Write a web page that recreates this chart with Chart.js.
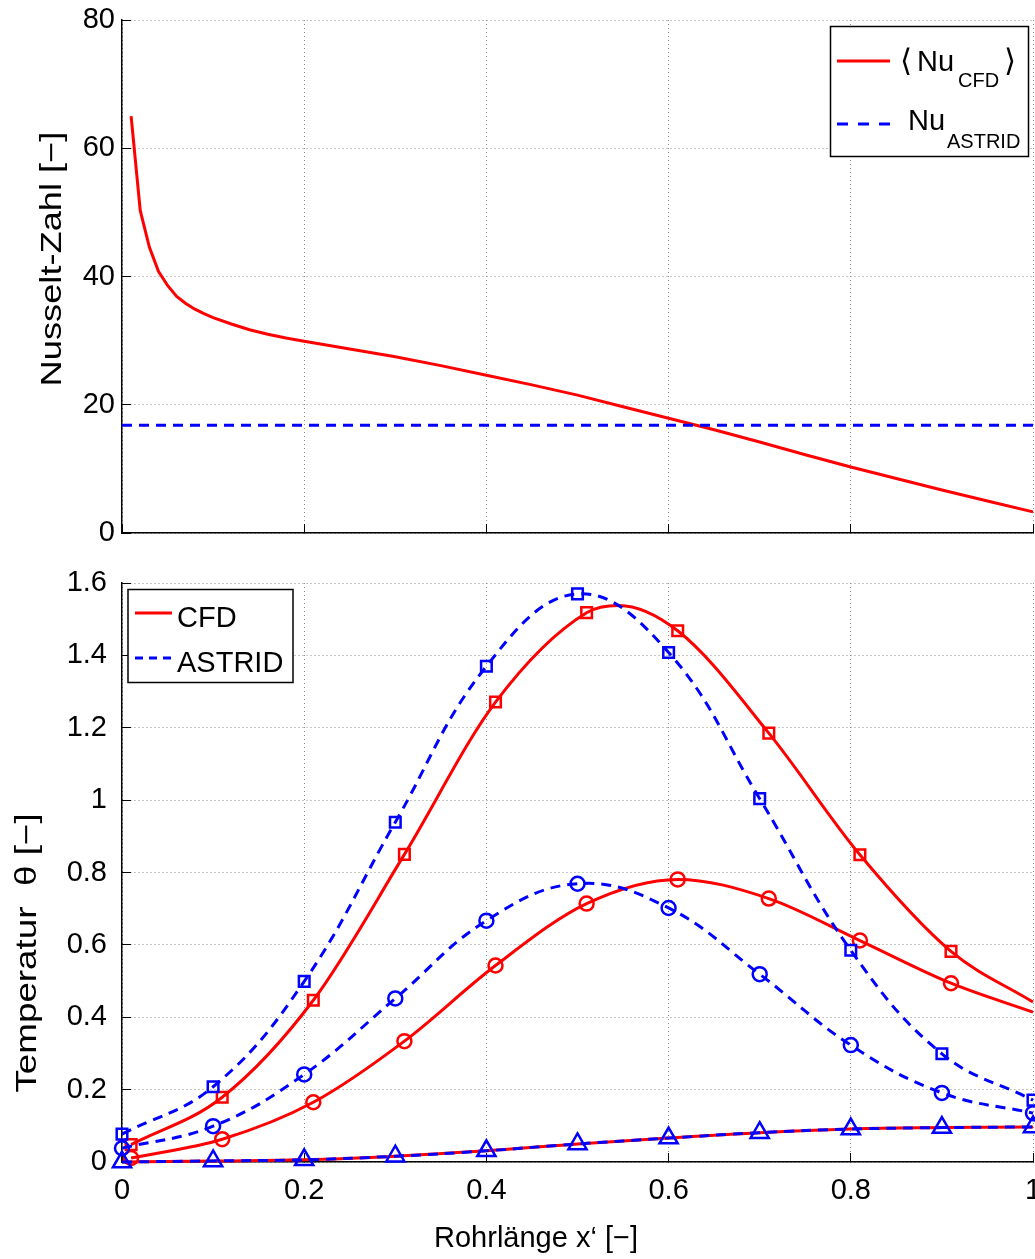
<!DOCTYPE html>
<html><head><meta charset="utf-8">
<script src="https://cdn.jsdelivr.net/npm/chart.js@4.4.1/dist/chart.umd.min.js"></script>
<style>
html,body{margin:0;padding:0;background:#fff;}
#wrap{position:relative;width:1035px;height:1259px;overflow:hidden;background:#fff;}
#c1{position:absolute;left:0;top:0;width:1035px;height:560px;}
#c2{position:absolute;left:0;top:560px;width:1035px;height:699px;}
#ov{position:absolute;left:0;top:0;}
</style></head><body>
<div id="wrap">
<canvas id="c1" width="1035" height="560"></canvas>
<canvas id="c2" width="1035" height="699"></canvas>
<svg id="ov" width="1035" height="1259" xmlns="http://www.w3.org/2000/svg">
  <g font-family="'Liberation Sans', Arial, Helvetica, sans-serif" fill="#000">
    <text transform="translate(61,259) rotate(-90) scale(1.25,1)" text-anchor="middle" font-size="29">Nusselt-Zahl [−]</text>
    <text transform="translate(36,953) rotate(-90) scale(1.27,1)" text-anchor="middle" font-size="29" xml:space="preserve">Temperatur  θ [−]</text>
    <text x="536" y="1247" text-anchor="middle" font-size="29">Rohrlänge x‘ [−]</text>

    <rect x="830.5" y="26.5" width="198" height="130" fill="#fff" stroke="#000" stroke-width="1.5"/>
    <line x1="837" y1="61" x2="890" y2="61" stroke="#ff0000" stroke-width="3"/>
    <text x="900" y="71" font-size="31" font-family="'DejaVu Sans', sans-serif" font-weight="200">⟨</text>
    <text x="917" y="71" font-size="29">Nu</text>
    <text x="958" y="87" font-size="20">CFD</text>
    <text x="1004" y="71" font-size="31" font-family="'DejaVu Sans', sans-serif" font-weight="200">⟩</text>
    <line x1="837" y1="124" x2="890" y2="124" stroke="#0000ff" stroke-width="3" stroke-dasharray="11 10"/>
    <text x="908" y="130" font-size="29">Nu</text>
    <text x="947" y="148" font-size="20">ASTRID</text>

    <rect x="128" y="589.5" width="165" height="93" fill="#fff" stroke="#000" stroke-width="1.5"/>
    <line x1="135" y1="613" x2="172" y2="613" stroke="#ff0000" stroke-width="3"/>
    <text x="177" y="627" font-size="29">CFD</text>
    <line x1="135" y1="658" x2="172" y2="658" stroke="#0000ff" stroke-width="3" stroke-dasharray="8 6"/>
    <text x="177" y="672" font-size="29">ASTRID</text>
  </g>
</svg>
</div>
<script>
// ---------------- data ----------------
const xTickLabels = ['0', '0.2', '0.4', '0.6', '0.8', '1'];
const nuTickLabels = ['0', '20', '40', '60', '80'];
const thetaTickLabels = ['0', '0.2', '0.4', '0.6', '0.8', '1', '1.2', '1.4', '1.6'];

// top: Nusselt number
const xNuCFD = [0.01, 0.02, 0.03, 0.04, 0.05, 0.06, 0.07, 0.08, 0.09, 0.10, 0.12, 0.14, 0.16, 0.18, 0.20, 0.25, 0.30, 0.35, 0.40, 0.45, 0.50, 0.55, 0.60, 0.65, 0.70, 0.75, 0.80, 0.85, 0.90, 0.95, 1.00];
const nuCFD = [65.0, 50.3, 44.6, 40.8, 38.6, 36.9, 35.8, 34.9, 34.2, 33.6, 32.6, 31.7, 31.0, 30.4, 29.9, 28.7, 27.5, 26.1, 24.6, 23.1, 21.5, 19.7, 17.9, 16.1, 14.2, 12.2, 10.3, 8.5, 6.7, 5.0, 3.3];
const xNuASTRID = [0, 1];
const nuASTRID = [16.8, 16.8];

// bottom: temperature
const xRedMarks = [0.01, 0.11, 0.21, 0.31, 0.41, 0.51, 0.61, 0.71, 0.81, 0.91];
const xBlueMarks = [0, 0.1, 0.2, 0.3, 0.4, 0.5, 0.6, 0.7, 0.8, 0.9, 1.0];

const xSqCFD = [0.01, 0.11, 0.21, 0.31, 0.41, 0.51, 0.545, 0.61, 0.71, 0.81, 0.91, 1.0];
const thSqCFD = [0.048, 0.179, 0.447, 0.850, 1.271, 1.518, 1.538, 1.468, 1.185, 0.849, 0.582, 0.442];
const xSqAST = [0, 0.1, 0.2, 0.3, 0.4, 0.5, 0.6, 0.7, 0.8, 0.9, 1.0];
const thSqAST = [0.077, 0.208, 0.499, 0.939, 1.370, 1.570, 1.408, 1.004, 0.585, 0.299, 0.171];

const xCiCFD = [0.01, 0.11, 0.21, 0.31, 0.41, 0.51, 0.61, 0.71, 0.81, 0.91, 1.0];
const thCiCFD = [0.011, 0.063, 0.165, 0.334, 0.543, 0.714, 0.781, 0.728, 0.612, 0.494, 0.414];
const xCiAST = [0, 0.1, 0.2, 0.3, 0.4, 0.5, 0.6, 0.7, 0.8, 0.9, 1.0];
const thCiAST = [0.038, 0.099, 0.242, 0.452, 0.667, 0.769, 0.702, 0.519, 0.323, 0.191, 0.135];

const xTriCFD = [0, 0.1, 0.2, 0.3, 0.4, 0.5, 0.6, 0.7, 0.8, 0.9, 1.0];
const thTriCFD = [0.000, 0.003, 0.006, 0.016, 0.031, 0.050, 0.066, 0.081, 0.091, 0.095, 0.097];
const xTriAST = [0, 0.1, 0.2, 0.3, 0.4, 0.5, 0.6, 0.7, 0.8, 0.9, 1.0];
const thTriAST = [0.000, 0.003, 0.006, 0.016, 0.031, 0.050, 0.066, 0.081, 0.091, 0.095, 0.097];

// ---------------- styling helpers ----------------
const RED = '#ff0000', BLUE = '#0000ff';
const FONT = {family: "'Liberation Sans', Arial, Helvetica, sans-serif", size: 29};
const DASH = [10, 7];

function pts(xs, ys) { return xs.map((x, i) => ({x: x, y: ys[i]})); }

function curve(xs, ys, color, dashed, style, marks, r, order, smooth) {
  const ds = {
    data: pts(xs, ys),
    borderColor: color,
    backgroundColor: color,
    borderWidth: 3,
    borderDash: dashed ? DASH : [],
    pointStyle: style || 'circle',
    pointRadius: (ctx) => (marks && marks.indexOf(xs[ctx.dataIndex]) >= 0) ? r : 0,
    pointBorderColor: color,
    pointBackgroundColor: 'rgba(0,0,0,0)',
    pointBorderWidth: 2.5,
    pointHoverRadius: 0,
    fill: false,
    clip: false,
    order: order
  };
  if (smooth === 'monotone') { ds.cubicInterpolationMode = 'monotone'; }
  else { ds.tension = smooth || 0; }
  return ds;
}

function gridOpts() {
  return {color: '#8c8c8c', lineWidth: 1, drawTicks: true, tickLength: -9,
          tickColor: '#000', tickWidth: 1, tickBorderDash: []};
}
function borderOpts() { return {display: true, color: '#000', width: 1.5, dash: [1, 3]}; }

function xScale(showLabels, h, labelPad) {
  return {
    type: 'linear', min: 0, max: 1,
    grid: gridOpts(), border: borderOpts(),
    ticks: {display: showLabels, stepSize: 0.2, padding: labelPad, color: '#000', font: FONT,
            maxRotation: 0, autoSkip: false,
            callback: (v, i) => xTickLabels[i] !== undefined ? xTickLabels[i] : String(v)},
    afterFit: (a) => { a.height = h; a.paddingLeft = 0; a.paddingRight = 0; }
  };
}
function yScale(min, max, step, labels, labelPad) {
  return {
    type: 'linear', min: min, max: max,
    grid: gridOpts(), border: borderOpts(),
    ticks: {stepSize: step, padding: labelPad, color: '#000', font: FONT,
            callback: (v, i) => labels[i] !== undefined ? labels[i] : String(v)},
    afterFit: (a) => { a.width = 122; a.paddingTop = 0; a.paddingBottom = 0; }
  };
}
const common = {
  responsive: false, animation: false, events: [],
  plugins: {legend: {display: false}, tooltip: {enabled: false}, title: {display: false}},
};

// ---------------- top chart ----------------
new Chart(document.getElementById('c1'), {
  type: 'line',
  data: {datasets: [
    curve(xNuASTRID, nuASTRID, BLUE, true, 'circle', null, 0, 0, 0),
    curve(xNuCFD, nuCFD, RED, false, 'circle', null, 0, 1, 0)
  ]},
  options: Object.assign({}, common, {
    layout: {autoPadding: false, padding: {left: 0, right: 2, top: 20, bottom: 0}},
    scales: {
      x: xScale(false, 27, 0),
      y: yScale(0, 80, 20, nuTickLabels, 16)
    }
  })
});

// ---------------- bottom chart ----------------
new Chart(document.getElementById('c2'), {
  type: 'line',
  data: {datasets: [
    curve(xTriAST, thTriAST, BLUE, true, 'triangle', xBlueMarks, 10.5, 0, 0.4),
    curve(xSqAST, thSqAST, BLUE, true, 'rect', xBlueMarks, 7.5, 0, 0.4),
    curve(xCiAST, thCiAST, BLUE, true, 'circle', xBlueMarks, 7, 0, 0.4),
    curve(xTriCFD, thTriCFD, RED, false, 'triangle', null, 0, 1, 0.4),
    curve(xSqCFD, thSqCFD, RED, false, 'rect', xRedMarks, 7.5, 1, 'monotone'),
    curve(xCiCFD, thCiCFD, RED, false, 'circle', xRedMarks, 7, 1, 'monotone')
  ]},
  options: Object.assign({}, common, {
    layout: {autoPadding: false, padding: {left: 0, right: 2, top: 23, bottom: 0}},
    scales: {
      x: xScale(true, 97, 21),
      y: yScale(0, 1.6, 0.2, thetaTickLabels, 24)
    }
  })
});
</script>
</body></html>
